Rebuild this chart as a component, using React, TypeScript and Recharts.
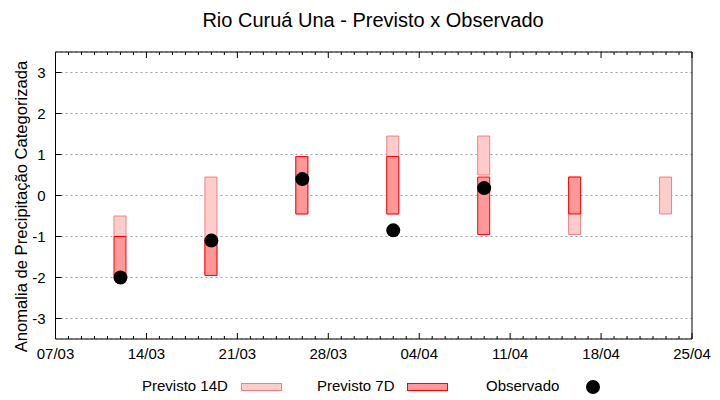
import { Bar, CartesianGrid, ComposedChart, Rectangle, Scatter, XAxis, YAxis } from 'recharts'

// days after 07/03 for each forecast week
const days = [5, 12, 19, 26, 33, 40, 47]
const tickLabels = ['07/03', '14/03', '21/03', '28/03', '04/04', '11/04', '18/04', '25/04']

const prev14Low = [-1.0, -1.95, -0.45, -0.45, 0.5, -0.95, -0.45]
const prev14High = [-0.5, 0.45, 0.95, 1.45, 1.45, 0.45, 0.45]
const prev7Low = [-1.95, -1.95, -0.45, -0.45, -0.95, -0.45, null]
const prev7High = [-1.0, -1.05, 0.95, 0.95, 0.45, 0.45, null]
const observed = [-2.0, -1.1, 0.4, -0.85, 0.18, null, null]

const yTicks = [-3, -2, -1, 0, 1, 2, 3]

const rows = days.map((day, i) => ({
  day,
  p14: [prev14Low[i], prev14High[i]],
  p7: prev7Low[i] == null ? null : [prev7Low[i], prev7High[i]],
  obs: observed[i],
}))
const obsRows = rows.filter((r) => r.obs != null)

const xMax = 49
const dayTicks = Array.from({ length: xMax + 1 }, (_, i) => i)

const FONT = '"Liberation Sans", Arial, sans-serif'

function XTick(props: any) {
  const { x, y, payload, top } = props
  const major = payload.value % 7 === 0
  const len = major ? 6 : 3
  return (
    <g>
      <line x1={x} x2={x} y1={y} y2={top ? y + len : y - len} stroke="#000" />
      {!top && major && (
        <text x={x} y={y + 20} textAnchor="middle" fontSize={15} fontFamily='"Liberation Sans Narrow", "Liberation Sans", sans-serif' fill="#000">
          {tickLabels[payload.value / 7]}
        </text>
      )}
    </g>
  )
}

function RangeBox(props: any) {
  const { x, y, width, height, fill, stroke, payload, field } = props
  if (!payload[field]) return <g />
  return <Rectangle x={x} y={y} width={width} height={height} fill={fill} stroke={stroke} strokeWidth={1} />
}

export default function App() {
  return (
    <div style={{ position: 'absolute', left: 0, top: 0, width: 720, height: 400, background: '#fff' }}>
      <ComposedChart width={720} height={400} data={rows} margin={{ top: 51, right: 27, bottom: 31, left: 15.5 }}>
        <CartesianGrid vertical={false} stroke="#a0a0a0" strokeDasharray="2 3" />
        <XAxis
          dataKey="day"
          type="number"
          domain={[0, xMax]}
          ticks={dayTicks}
          interval={0}
          height={30}
          tickSize={0}
          tickMargin={0}
          tickLine={false}
          axisLine={{ stroke: '#000' }}
          tick={(p: any) => <XTick {...p} />}
        />
        <XAxis xAxisId="b" dataKey="day" type="number" domain={[0, xMax]} hide />
        <XAxis
          xAxisId="top"
          orientation="top"
          dataKey="day"
          type="number"
          domain={[0, xMax]}
          ticks={dayTicks}
          interval={0}
          height={1}
          tickSize={0}
          tickMargin={0}
          tickLine={false}
          axisLine={{ stroke: '#000' }}
          tick={(p: any) => <XTick {...p} top />}
        />
        <YAxis
          type="number"
          domain={[-3.5, 3.5]}
          ticks={yTicks}
          interval={0}
          width={40}
          tickSize={-6}
          tickMargin={16}
          axisLine={{ stroke: '#000' }}
          tickLine={{ stroke: '#000' }}
          tick={{ fill: '#000', fontSize: 15, fontFamily: FONT }}
          label={{
            value: 'Anomalia de Precipitação Categorizada',
            angle: -90,
            position: 'center',
            dx: -14,
            dy: 11,
            style: { fontSize: 16.6, fontFamily: FONT, fill: '#000', textAnchor: 'middle' },
          }}
        />
        <YAxis
          yAxisId="r"
          orientation="right"
          type="number"
          domain={[-3.5, 3.5]}
          ticks={yTicks}
          interval={0}
          width={1}
          tickSize={-6}
          tickFormatter={() => ''}
          axisLine={{ stroke: '#000' }}
          tickLine={{ stroke: '#000' }}
        />
        <Bar
          xAxisId="b"
          dataKey="p14"
          barSize={12}
          fill="#ffcccc"
          stroke="#f08080"
          isAnimationActive={false}
          shape={(p: any) => <RangeBox {...p} field="p14" />}
        />
        <Bar
          dataKey="p7"
          barSize={12}
          fill="#ff9999"
          stroke="#ff0000"
          isAnimationActive={false}
          shape={(p: any) => <RangeBox {...p} field="p7" />}
        />
        <Scatter
          data={obsRows}
          dataKey="obs"
          fill="#000"
          isAnimationActive={false}
          shape={(p: any) => <circle cx={p.cx} cy={p.cy} r={7} fill="#000" />}
        />
      </ComposedChart>
      <svg width={720} height={400} style={{ position: 'absolute', left: 0, top: 0, pointerEvents: 'none' }}>
        <text x={373} y={27} textAnchor="middle" fontSize={20} fontFamily={FONT} fill="#000">
          Rio Curuá Una - Previsto x Observado
        </text>
        <g fontSize={15} fontFamily={FONT} fill="#000">
          <text x={142} y={391}>Previsto 14D</text>
          <rect x={241.5} y={383.5} width={40} height={7} fill="#ffcccc" stroke="#f08080" />
          <text x={317} y={391}>Previsto 7D</text>
          <rect x={407.5} y={383.5} width={40} height={7} fill="#ff9999" stroke="#ff0000" />
          <text x={486} y={391}>Observado</text>
          <circle cx={593} cy={387} r={7} fill="#000" />
        </g>
      </svg>
    </div>
  )
}
